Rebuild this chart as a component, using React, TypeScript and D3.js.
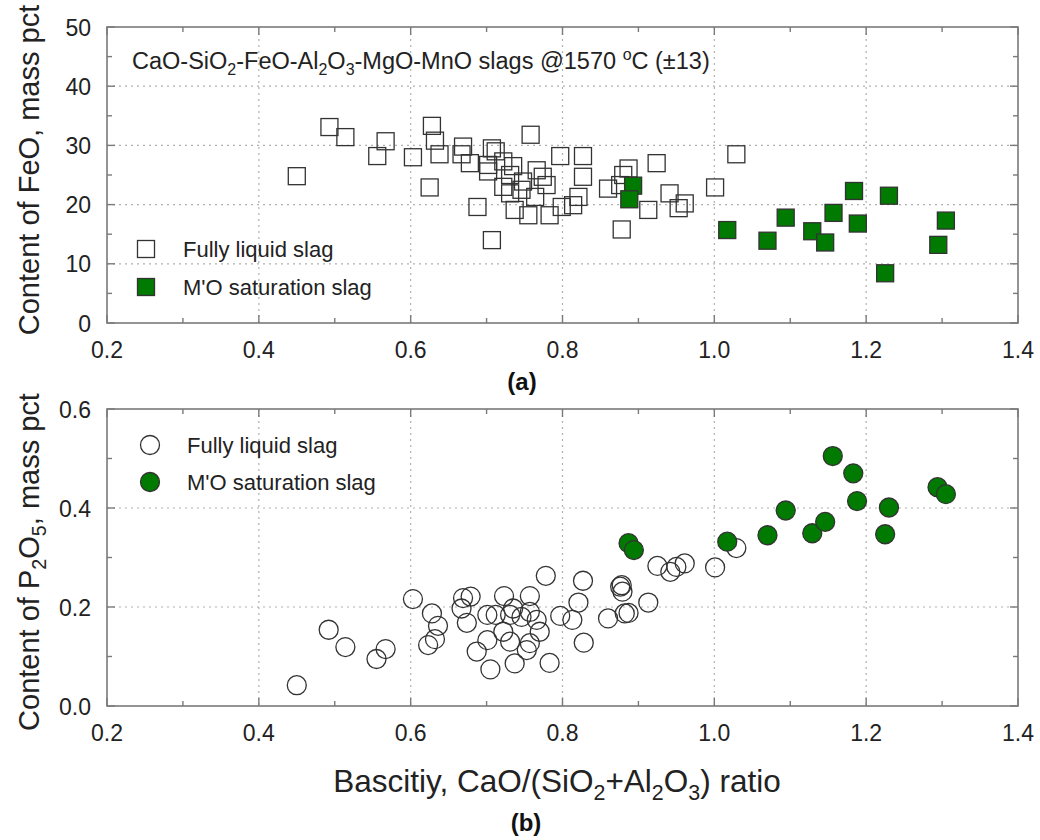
import React from "react";
import * as d3 from "d3";

// ---- data ----
const feoLiquid: [number, number][] = [
  [0.450, 24.8], [0.493, 33.1], [0.514, 31.4], [0.556, 28.2], [0.567, 30.7], [0.603, 28.0],
  [0.625, 22.9], [0.628, 33.3], [0.632, 30.8], [0.638, 28.5], [0.667, 28.5], [0.669, 29.8],
  [0.678, 27.0], [0.688, 19.6], [0.702, 25.6], [0.702, 26.7], [0.707, 29.5], [0.707, 14.0],
  [0.712, 29.0], [0.722, 27.3], [0.722, 23.0], [0.731, 25.0], [0.731, 21.9], [0.737, 19.1],
  [0.735, 26.5], [0.746, 22.5], [0.748, 23.9], [0.755, 18.2], [0.758, 31.8], [0.764, 21.3],
  [0.766, 25.8], [0.774, 24.7], [0.779, 23.3], [0.783, 18.2], [0.797, 28.2], [0.799, 19.6],
  [0.814, 19.9], [0.821, 21.3], [0.827, 28.2], [0.827, 24.7], [0.860, 22.7], [0.876, 23.3],
  [0.878, 15.8], [0.880, 25.0], [0.887, 26.1], [0.913, 19.1], [0.924, 27.0], [0.941, 21.9],
  [0.953, 19.4], [0.961, 20.2], [1.001, 22.9], [1.029, 28.5],
];
const feoSaturated: [number, number][] = [
  [0.893, 23.2], [0.888, 20.9], [1.017, 15.7], [1.070, 13.9], [1.094, 17.8], [1.129, 15.5],
  [1.146, 13.6], [1.157, 18.6], [1.184, 22.3], [1.189, 16.8], [1.230, 21.5], [1.225, 8.4],
  [1.305, 17.3], [1.295, 13.2],
];
const p2o5Liquid: [number, number][] = [
  [0.450, 0.042], [0.492, 0.154], [0.514, 0.119], [0.555, 0.095], [0.567, 0.115], [0.603, 0.216],
  [0.628, 0.187], [0.636, 0.162], [0.632, 0.135], [0.623, 0.123], [0.669, 0.218], [0.679, 0.221],
  [0.667, 0.197], [0.674, 0.168], [0.687, 0.110], [0.705, 0.074], [0.701, 0.184], [0.701, 0.133],
  [0.723, 0.222], [0.712, 0.184], [0.722, 0.150], [0.731, 0.130], [0.737, 0.086], [0.731, 0.184],
  [0.735, 0.197], [0.757, 0.222], [0.746, 0.180], [0.757, 0.190], [0.766, 0.174], [0.770, 0.150],
  [0.757, 0.127], [0.753, 0.113], [0.783, 0.087], [0.778, 0.263], [0.797, 0.182], [0.813, 0.174],
  [0.821, 0.209], [0.827, 0.253], [0.828, 0.128], [0.860, 0.177], [0.876, 0.241], [0.882, 0.187],
  [0.879, 0.231], [0.878, 0.244], [0.887, 0.188], [0.913, 0.209], [0.925, 0.283], [0.942, 0.271],
  [0.950, 0.281], [0.961, 0.288], [1.001, 0.280], [1.029, 0.319],
];
const p2o5Saturated: [number, number][] = [
  [0.887, 0.329], [0.894, 0.315], [1.017, 0.332], [1.070, 0.345], [1.094, 0.395], [1.129, 0.349],
  [1.146, 0.372], [1.156, 0.505], [1.183, 0.470], [1.188, 0.414], [1.230, 0.401], [1.225, 0.347],
  [1.294, 0.442], [1.305, 0.428],
];
const xTicks = [0.2, 0.4, 0.6, 0.8, 1.0, 1.2, 1.4];
const xMinor = [0.3, 0.5, 0.7, 0.9, 1.1, 1.3];
const feoTicks = [0, 10, 20, 30, 40, 50];
const feoMinor = [5, 15, 25, 35, 45];
const p2o5Ticks = [0.0, 0.2, 0.4, 0.6];
const p2o5Minor = [0.1, 0.3, 0.5];
const legendLabels = ["Fully liquid slag", "M'O saturation slag"];

const FONT = "'Liberation Sans', Arial, Helvetica, sans-serif";
const GREEN = "#007a00";
const FRAME = "#7a7a7a";
const MARK_STROKE = "#333";

type Panel = {
  top: number;
  bottom: number;
  yDomain: [number, number];
  yTicks: number[];
  yMinor: number[];
  yFmt: (v: number) => string;
};

const X0 = 107;
const X1 = 1018;
const x = d3.scaleLinear().domain([0.2, 1.4]).range([X0, X1]);

function Frame({ p }: { p: Panel }) {
  const y = d3.scaleLinear().domain(p.yDomain).range([p.bottom, p.top]);
  const grid = "#b0b0b0";
  return (
    <g>
      {xTicks.slice(1, -1).map((t) => (
        <line key={"gx" + t} x1={x(t)} x2={x(t)} y1={p.top} y2={p.bottom} stroke={grid} strokeWidth={1.2} strokeDasharray="2,4" />
      ))}
      {p.yTicks.slice(1, -1).map((t) => (
        <line key={"gy" + t} x1={X0} x2={X1} y1={y(t)} y2={y(t)} stroke={grid} strokeWidth={1.2} strokeDasharray="2,4" />
      ))}
      <rect x={X0} y={p.top} width={X1 - X0} height={p.bottom - p.top} fill="none" stroke={FRAME} strokeWidth={1.6} />
      {xTicks.map((t) => (
        <g key={"xt" + t}>
          <line x1={x(t)} x2={x(t)} y1={p.bottom} y2={p.bottom - 8} stroke={FRAME} strokeWidth={1.4} />
          <line x1={x(t)} x2={x(t)} y1={p.top} y2={p.top + 8} stroke={FRAME} strokeWidth={1.4} />
          <text x={x(t)} y={p.bottom + 35} textAnchor="middle" fontSize={23} fontFamily={FONT} fill="#222">
            {d3.format(".1f")(t)}
          </text>
        </g>
      ))}
      {xMinor.map((t) => (
        <g key={"xm" + t}>
          <line x1={x(t)} x2={x(t)} y1={p.bottom} y2={p.bottom - 5} stroke={FRAME} strokeWidth={1.4} />
          <line x1={x(t)} x2={x(t)} y1={p.top} y2={p.top + 5} stroke={FRAME} strokeWidth={1.4} />
        </g>
      ))}
      {p.yTicks.map((t) => (
        <g key={"yt" + t}>
          <line x1={X0} x2={X0 + 8} y1={y(t)} y2={y(t)} stroke={FRAME} strokeWidth={1.4} />
          <line x1={X1} x2={X1 - 8} y1={y(t)} y2={y(t)} stroke={FRAME} strokeWidth={1.4} />
          <text x={91} y={y(t) + 8.5} textAnchor="end" fontSize={23} fontFamily={FONT} fill="#222">
            {p.yFmt(t)}
          </text>
        </g>
      ))}
      {p.yMinor.map((t) => (
        <g key={"ym" + t}>
          <line x1={X0} x2={X0 + 5} y1={y(t)} y2={y(t)} stroke={FRAME} strokeWidth={1.4} />
          <line x1={X1} x2={X1 - 5} y1={y(t)} y2={y(t)} stroke={FRAME} strokeWidth={1.4} />
        </g>
      ))}
    </g>
  );
}

const topPanel: Panel = {
  top: 27,
  bottom: 323,
  yDomain: [0, 50],
  yTicks: feoTicks,
  yMinor: feoMinor,
  yFmt: (v) => d3.format("d")(v),
};
const botPanel: Panel = {
  top: 409,
  bottom: 706,
  yDomain: [0, 0.6],
  yTicks: p2o5Ticks,
  yMinor: p2o5Minor,
  yFmt: (v) => d3.format(".1f")(v),
};

const SQ = 17;
const R = 9.5;

export default function App() {
  const yTop = d3.scaleLinear().domain(topPanel.yDomain).range([topPanel.bottom, topPanel.top]);
  const yBot = d3.scaleLinear().domain(botPanel.yDomain).range([botPanel.bottom, botPanel.top]);
  const sub = { fontSize: "0.68em" } as React.CSSProperties;
  return (
    <svg width={1040} height={840} style={{ display: "block", position: "absolute", left: 0, top: 0, background: "#fff" }}>
      <rect width={1040} height={840} fill="#fff" />
      <Frame p={topPanel} />
      <Frame p={botPanel} />

      {/* top panel markers */}
      {feoLiquid.map(([a, b], i) => (
        <rect key={"fl" + i} x={x(a) - SQ / 2} y={yTop(b) - SQ / 2} width={SQ} height={SQ} fill="none" stroke={MARK_STROKE} strokeWidth={1.3} />
      ))}
      {feoSaturated.map(([a, b], i) => (
        <rect key={"fs" + i} x={x(a) - SQ / 2} y={yTop(b) - SQ / 2} width={SQ} height={SQ} fill={GREEN} stroke={MARK_STROKE} strokeWidth={1.3} />
      ))}

      {/* bottom panel markers */}
      {p2o5Liquid.map(([a, b], i) => (
        <circle key={"pl" + i} cx={x(a)} cy={yBot(b)} r={R} fill="none" stroke={MARK_STROKE} strokeWidth={1.3} />
      ))}
      {p2o5Saturated.map(([a, b], i) => (
        <circle key={"ps" + i} cx={x(a)} cy={yBot(b)} r={R} fill={GREEN} stroke={MARK_STROKE} strokeWidth={1.3} />
      ))}

      {/* top title */}
      <text x={132} y={69} fontSize={23.5} fontFamily={FONT} fill="#222">
        CaO-SiO<tspan dy={6} style={sub}>2</tspan>
        <tspan dy={-6}>-FeO-Al</tspan>
        <tspan dy={6} style={sub}>2</tspan>
        <tspan dy={-6}>O</tspan>
        <tspan dy={6} style={sub}>3</tspan>
        <tspan dy={-6}>-MgO-MnO slags @1570 </tspan>
        <tspan dy={-9} style={sub}>o</tspan>
        <tspan dy={9}>C (±13)</tspan>
      </text>

      {/* top legend */}
      <rect x={146 - SQ / 2} y={249 - SQ / 2} width={SQ} height={SQ} fill="#fff" stroke={MARK_STROKE} strokeWidth={1.3} />
      <rect x={146 - SQ / 2} y={287 - SQ / 2} width={SQ} height={SQ} fill={GREEN} stroke={MARK_STROKE} strokeWidth={1.3} />
      <text x={183} y={257} fontSize={22} fontFamily={FONT} fill="#222">{legendLabels[0]}</text>
      <text x={183} y={295} fontSize={22} fontFamily={FONT} fill="#222">{legendLabels[1]}</text>

      {/* bottom legend */}
      <circle cx={150} cy={445} r={R} fill="#fff" stroke={MARK_STROKE} strokeWidth={1.3} />
      <circle cx={150} cy={482} r={R} fill={GREEN} stroke={MARK_STROKE} strokeWidth={1.3} />
      <text x={187} y={453} fontSize={22} fontFamily={FONT} fill="#222">{legendLabels[0]}</text>
      <text x={187} y={490} fontSize={22} fontFamily={FONT} fill="#222">{legendLabels[1]}</text>

      {/* y axis labels */}
      <text transform="translate(39,170) rotate(-90)" textAnchor="middle" fontSize={29} fontFamily={FONT} fill="#222">
        Content of FeO, mass pct
      </text>
      <text transform="translate(39,562) rotate(-90)" textAnchor="middle" fontSize={29} fontFamily={FONT} fill="#222">
        Content of P<tspan dy={7} style={sub}>2</tspan>
        <tspan dy={-7}>O</tspan>
        <tspan dy={7} style={sub}>5</tspan>
        <tspan dy={-7}>, mass pct</tspan>
      </text>

      {/* x axis label */}
      <text x={557} y={792} textAnchor="middle" fontSize={31.5} fontFamily={FONT} fill="#222">
        Bascitiy, CaO/(SiO<tspan dy={8} style={sub}>2</tspan>
        <tspan dy={-8}>+Al</tspan>
        <tspan dy={8} style={sub}>2</tspan>
        <tspan dy={-8}>O</tspan>
        <tspan dy={8} style={sub}>3</tspan>
        <tspan dy={-8}>) ratio</tspan>
      </text>

      {/* panel labels */}
      <text x={522} y={390} textAnchor="middle" fontSize={24} fontWeight="bold" fontFamily={FONT} fill="#111">(a)</text>
      <text x={526} y={831} textAnchor="middle" fontSize={24} fontWeight="bold" fontFamily={FONT} fill="#111">(b)</text>
    </svg>
  );
}
